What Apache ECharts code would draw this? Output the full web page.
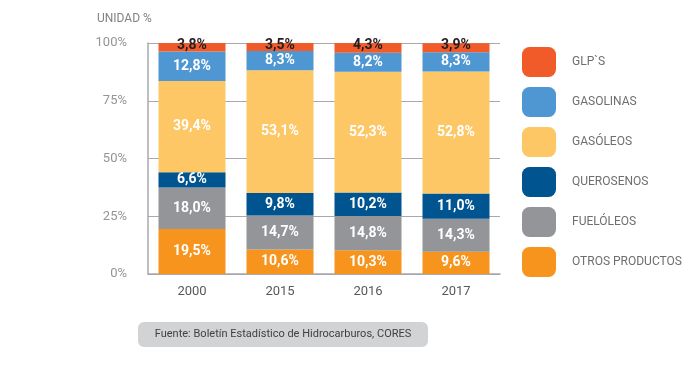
<!DOCTYPE html>
<html><head><meta charset="utf-8">
<script src="https://cdn.jsdelivr.net/npm/echarts@6/dist/echarts.min.js"></script>
<style>html,body{margin:0;padding:0;background:#fff}#c{width:688px;height:368px}</style>
</head><body><div id="c"></div>
<script>
const years = ['2000','2015','2016','2017'];
const seriesNames = ['OTROS PRODUCTOS','FUELÓLEOS','QUEROSENOS','GASÓLEOS','GASOLINAS','GLP`S'];
const otros = [19.5,10.6,10.3,9.6];
const fueloleos = [18.0,14.7,14.8,14.3];
const querosenos = [6.6,9.8,10.2,11.0];
const gasoleos = [39.4,53.1,52.3,52.8];
const gasolinas = [12.8,8.3,8.2,8.3];
const glps = [3.8,3.5,4.3,3.9];
const yTicks = ['0%','25%','50%','75%','100%'];
const colors = ['#f7941d','#939598','#00548f','#fdc766','#4f97d3','#f15a29'];
const values = [otros,fueloleos,querosenos,gasoleos,gasolinas,glps];
const FONT = 'Roboto, sans-serif';

const chart = echarts.init(document.getElementById('c'));
const series = seriesNames.map((n,i)=>({
  name:n, type:'bar', stack:'s', barWidth:67, data:values[i],
  itemStyle:{color:colors[i]},
  label:{show:true, position:'inside', fontFamily:FONT, fontWeight:'bold', fontSize:14,
    color: i===5 ? '#231f20' : '#ffffff', offset: i===5 ? [0,-2] : [0,0],
    formatter:p=>p.value.toFixed(1).replace('.',',')+'%'}
}));
chart.setOption({
  animation:false,
  grid:{left:148,right:188,top:43,bottom:94},
  xAxis:{type:'category',data:years,
    axisLine:{lineStyle:{color:'#a7a9ac',width:1.5}},axisTick:{show:false},
    axisLabel:{fontFamily:FONT,fontSize:13,color:'#58595b',margin:11}},
  yAxis:{type:'value',min:0,max:100,interval:25,
    name:'UNIDAD %',nameLocation:'end',nameGap:18,
    nameTextStyle:{fontFamily:FONT,fontSize:12,color:'#808285',align:'left',padding:[0,0,0,-51]},
    axisLine:{show:true,lineStyle:{color:'#a7a9ac',width:1.5}},
    splitLine:{lineStyle:{color:'#a7a9ac',width:1.2}},
    axisLabel:{fontFamily:FONT,fontSize:13,color:'#939598',margin:21,
      formatter:v=>yTicks[Math.round(v/25)]}},
  legend:{orient:'vertical',left:517,top:42,itemWidth:34,itemHeight:30,itemGap:10,
    icon:'roundRect',data:seriesNames.slice().reverse(),
    textStyle:{fontFamily:FONT,fontSize:12,color:'#6d6e71',padding:[0,0,0,11]},
    selectedMode:false},
  series:series,
  graphic:[{type:'group',left:138,top:322,children:[
    {type:'rect',shape:{x:0,y:0,width:290,height:25,r:6},style:{fill:'#d1d3d4'}},
    {type:'text',x:145,y:12.5,style:{text:'Fuente: Boletín Estadístico de Hidrocarburos, CORES',
      fontFamily:FONT,fontSize:11,fill:'#414042',align:'center',verticalAlign:'middle'}}
  ]}]
});
</script></body></html>
